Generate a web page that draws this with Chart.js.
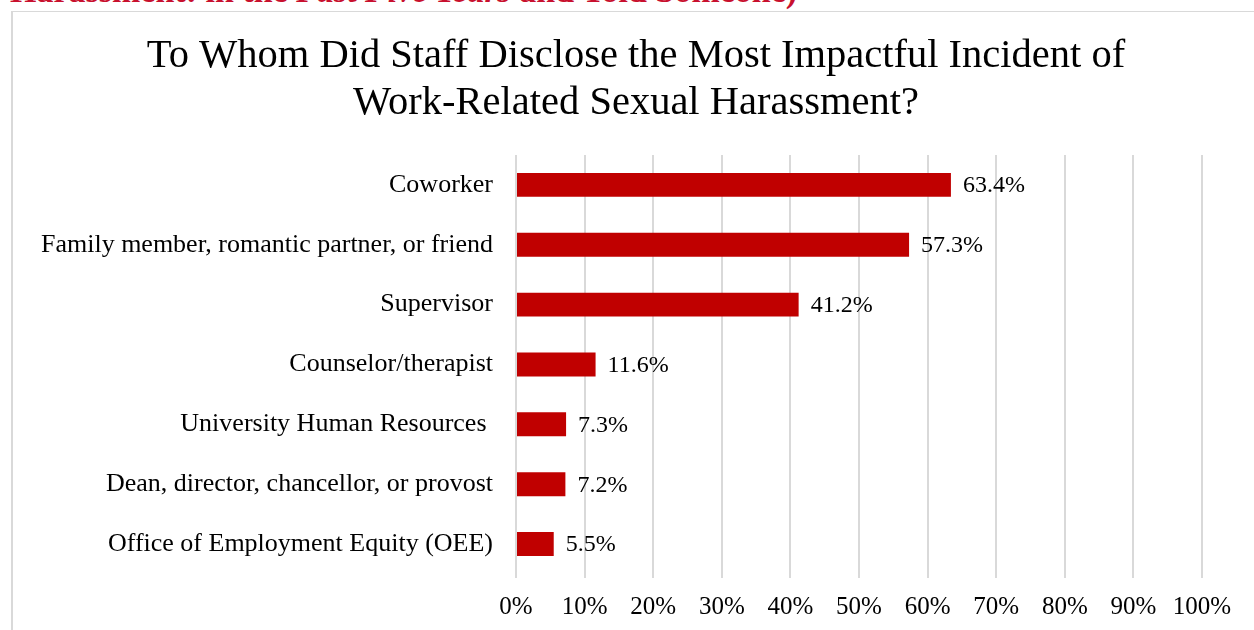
<!DOCTYPE html>
<html>
<head>
<meta charset="utf-8">
<script src="https://cdn.jsdelivr.net/npm/chart.js@4/dist/chart.umd.min.js"></script>
<style>
  html, body { margin: 0; padding: 0; background: #fff; overflow: hidden; }
  body { width: 1254px; height: 630px; position: relative; }
  #heading {
    position: absolute; left: 10px; top: -26px; white-space: nowrap;
    font-family: "Liberation Serif", serif; font-weight: bold; font-size: 34px;
    line-height: 1; color: #c8102e;
  }
  #box {
    position: absolute; left: 11px; top: 11px; width: 1300px; height: 660px;
    border-top: 1px solid #d9d9d9; border-left: 2px solid #d9d9d9;
    box-sizing: border-box; background: #fff;
  }
</style>
</head>
<body>
<div id="heading">Harassment: in the <i>Past Five Years</i> and Told Someone)</div>
<div id="box"><canvas id="disclosureChart"></canvas></div>
<script>
// Who staff told about the incident
const categories = [
    "Coworker",
    "Family member, romantic partner, or friend",
    "Supervisor",
    "Counselor/therapist",
    "University Human Resources ",
    "Dean, director, chancellor, or provost",
    "Office of Employment Equity (OEE)"
];
const percentages = [63.4, 57.3, 41.2, 11.6, 7.3, 7.2, 5.5];
const tickValues = [0, 10, 20, 30, 40, 50, 60, 70, 80, 90, 100];

const serif = "'Liberation Serif', 'Times New Roman', serif";

// Writes the percentage just past the end of each bar
const valueLabels = {
    id: 'valueLabels',
    afterDatasetsDraw(chart) {
        const ctx = chart.ctx;
        const meta = chart.getDatasetMeta(0);
        ctx.save();
        ctx.font = "24px " + serif;
        ctx.fillStyle = '#000';
        ctx.textAlign = 'left';
        ctx.textBaseline = 'middle';
        meta.data.forEach((bar, i) => {
            ctx.fillText(percentages[i].toFixed(1) + '%', bar.x + 12, bar.y + 1);
        });
        ctx.restore();
    }
};

const canvas = document.getElementById('disclosureChart');
canvas.width = 1254;
canvas.height = 640;

new Chart(canvas, {
    type: 'bar',
    data: {
        labels: categories,
        datasets: [{
            data: percentages,
            backgroundColor: '#c00000',
            borderWidth: 0,
            barPercentage: 0.8,
            categoryPercentage: 0.5
        }]
    },
    options: {
        indexAxis: 'y',
        responsive: false,
        animation: false,
        layout: { padding: { left: 57, right: 65, top: 0, bottom: 0 } },
        plugins: {
            legend: { display: false },
            tooltip: { enabled: false },
            title: {
                display: true,
                text: ["To Whom Did Staff Disclose the Most Impactful Incident of",
                       "Work-Related Sexual Harassment?"],
                color: '#000',
                font: { family: serif, size: 40.5, weight: 'normal', lineHeight: 1.16 },
                padding: { top: 21, bottom: 28 }
            }
        },
        scales: {
            x: {
                min: 0,
                max: 100,
                afterBuildTicks(axis) {
                    axis.ticks = tickValues.map(v => ({ value: v }));
                },
                afterFit(axis) { axis.height = 78; },
                ticks: {
                    color: '#000',
                    font: { family: serif, size: 25 },
                    padding: 14,
                    maxRotation: 0,
                    callback: v => v + '%'
                },
                grid: { color: '#d9d9d9', lineWidth: 2, drawTicks: true, tickLength: 4, tickColor: '#d9d9d9' },
                border: { display: false }
            },
            y: {
                afterFit(axis) {
                    axis.width = 446;
                    // long category names run past the axis box, so don't clip them
                    axis._computeLabelArea = () => undefined;
                },
                ticks: {
                    color: '#000',
                    font: { family: serif, size: 26 },
                    padding: 15
                },
                grid: { display: false },
                border: { display: false }
            }
        }
    },
    plugins: [valueLabels]
});
</script>
</body>
</html>
